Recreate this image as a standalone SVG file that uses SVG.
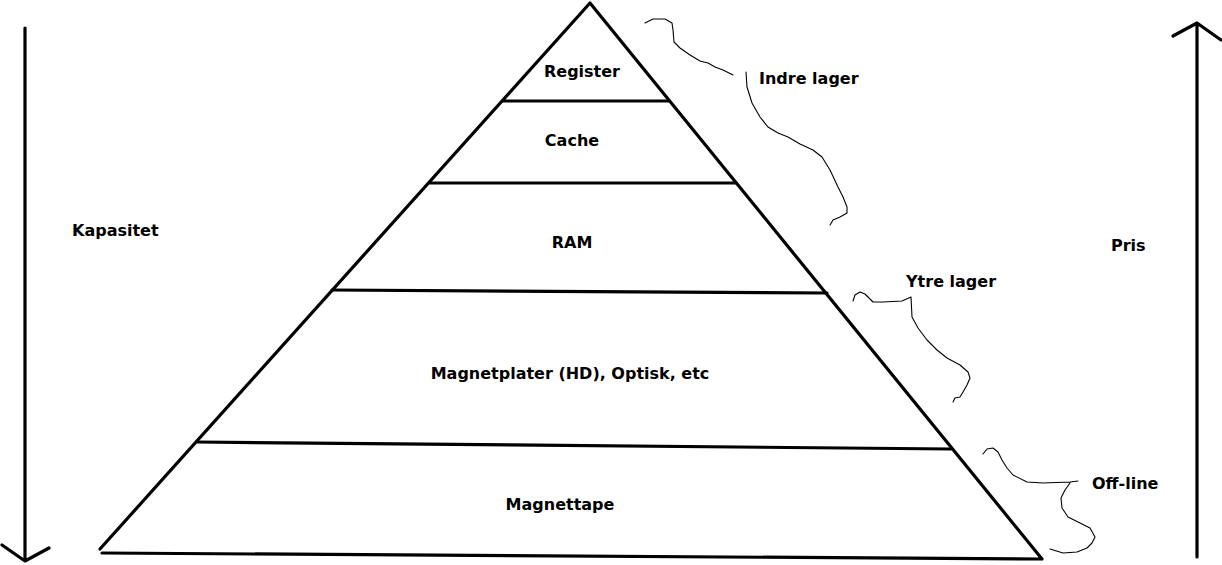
<svg xmlns="http://www.w3.org/2000/svg" width="1222" height="565" viewBox="0 0 1222 565">
<style>
.thick{fill:none;stroke:#000;stroke-width:3.2;stroke-linecap:round;stroke-linejoin:round}
.thin{fill:none;stroke:#000;stroke-width:1.1;stroke-linecap:round;stroke-linejoin:round}
text{font-family:"DejaVu Sans","Verdana",sans-serif;font-weight:bold;font-size:16px;fill:#000}
.c{text-anchor:middle}
</style>
<rect width="1222" height="565" fill="#fff"/>
<g id="pyramid">
<path class="thick" d="M100,549 L590,3 L1042,559 M102,553 L1040,559"/>
</g>
<g id="connectors">
<path class="thick" d="M503,101 L669,101"/>
<path class="thick" d="M430,183 L736,183"/>
<path class="thick" d="M332,290 L827,293"/>
<path class="thick" d="M197,442 L951,449"/>
<path class="thick" d="M25,28 L25,561 M2,545 L25,561 L49,548"/>
<path class="thick" d="M1197,557 L1197,23 M1173,36 L1197,23 L1221,40"/>
<path class="thin" d="M645,23 L653,19 L665,19 L672,23 L673,30 L674,42 L680,48 L690,55 L700,61 L708,63 L715,67 L723,70 L733,75"/>
<path class="thin" d="M746,72 L747,87 L752,103 L760,117 L768,127 L778,133 L788,137 L800,144 L813,150 L822,157 L830,170 L838,187 L843,197 L847,207 L847,213 L840,217 L833,220 L830,225"/>
<path class="thin" d="M853,301 L855,295 L860,292 L865,294 L873,302 L883,302 L902,301 L911,297 L912,317 L918,328 L927,340 L937,350 L947,358 L960,365 L968,372 L970,378 L967,385 L963,392 L960,397 L955,398 L953,402"/>
<path class="thin" d="M983,454 L987,449 L993,448 L998,452 L1002,460 L1007,468 L1013,475 L1027,482 L1043,483 L1070,482 L1078,481 M1070,483 L1065,490 L1061,498 L1062,508 L1068,517 L1080,523 L1090,528 L1095,537 L1092,543 L1087,548 L1077,552 L1063,553 L1050,549"/>
</g>
<g id="register"><text class="c" x="582" y="77">Register</text></g>
<g id="cache"><text class="c" x="572" y="146">Cache</text></g>
<g id="ram"><text class="c" x="572" y="248">RAM</text></g>
<g id="magnetplater"><text class="c" x="570" y="379">Magnetplater (HD), Optisk, etc</text></g>
<g id="magnettape"><text class="c" x="560" y="510">Magnettape</text></g>
<g id="kapasitet"><text x="72" y="236">Kapasitet</text></g>
<g id="pris"><text x="1111" y="251">Pris</text></g>
<g id="indre"><text x="759" y="84">Indre lager</text></g>
<g id="ytre"><text x="906" y="287">Ytre lager</text></g>
<g id="offline"><text x="1092" y="489">Off-line</text></g>
</svg>
